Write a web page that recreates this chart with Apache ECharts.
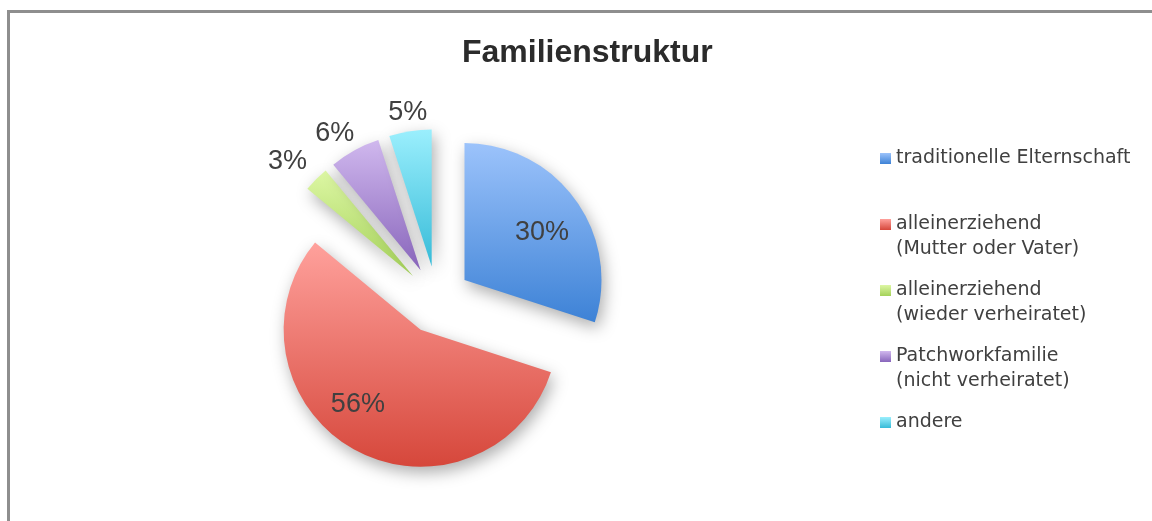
<!DOCTYPE html>
<html>
<head>
<meta charset="utf-8">
<title>Familienstruktur</title>
<script src="https://cdn.jsdelivr.net/npm/echarts@6/dist/echarts.min.js"></script>
<style>
  html, body { margin: 0; padding: 0; background: #fff; overflow: hidden; }
  #chart { position: absolute; left: 0; top: 0; width: 1152px; height: 521px; }
  #frame {
    position: absolute; left: 7px; top: 10px; width: 1200px; height: 600px;
    border-top: 3px solid #8e8e8e; border-left: 3px solid #8e8e8e;
    pointer-events: none;
  }
</style>
</head>
<body>
<div id="frame"></div>
<div id="chart"></div>
<script>
const categories = [
  'traditionelle Elternschaft',
  'alleinerziehend\n(Mutter oder Vater)',
  'alleinerziehend\n(wieder verheiratet)',
  'Patchworkfamilie\n(nicht verheiratet)',
  'andere'
]
const shares = [30, 56, 3, 6, 5]

// gradient fill, top -> bottom
const topColors = ['#9cc3fb', '#ffa19c', '#ddf7a4', '#d0b8ee', '#9beffd']
const bottomColors = ['#3d82d6', '#d6473b', '#a4d159', '#8865bb', '#36bbd8']

const center = [437, 300]
const radius = 137
const explode = 34
const textColor = '#404040'
// small nudges so the percentage labels sit where Excel put them
const labelNudge = [[-1, 10], [-16, -10], [-8, 3], [-6, 9], [2, 10]]

function gradient(i) {
  return new echarts.graphic.LinearGradient(0, 0, 0, 1, [
    { offset: 0, color: topColors[i] },
    { offset: 1, color: bottomColors[i] }
  ])
}

const chart = echarts.init(document.getElementById('chart'))

const slices = categories.map((name, i) => ({
  name,
  value: shares[i],
  selected: true,
  itemStyle: { color: gradient(i) }
}))

// transparent copies of the pie, only used to place the percentage labels
function labelSeries(r, showFn) {
  return {
    type: 'pie',
    center,
    radius: r,
    silent: true,
    selectedMode: 'multiple',
    selectedOffset: explode,
    itemStyle: { color: 'rgba(0,0,0,0)' },
    label: {
      position: 'inside',
      formatter: '{c}%',
      color: textColor,
      fontSize: 27,
      fontFamily: 'Liberation Sans'
    },
    labelLine: { show: false },
    labelLayout: (params) => ({
      dx: labelNudge[params.dataIndex][0],
      dy: labelNudge[params.dataIndex][1]
    }),
    emphasis: { disabled: true },
    data: categories.map((name, i) => ({
      name,
      value: shares[i],
      selected: true,
      label: { show: showFn(shares[i]) }
    }))
  }
}

chart.setOption({
  animation: false,
  title: {
    text: 'Familienstruktur',
    left: 462,
    top: 37,
    padding: 0,
    textStyle: {
      fontFamily: 'Liberation Sans',
      fontWeight: 'bold',
      fontSize: 32,
      color: '#2b2b2b'
    }
  },
  legend: {
    orient: 'vertical',
    left: 880,
    top: 121,
    padding: 0,
    itemWidth: 11,
    itemHeight: 11,
    itemGap: -9,
    icon: 'rect',
    data: categories,
    formatter: (name) => ' \n' + name + (name.includes('\n') ? '' : '\n '),
    textStyle: {
      fontFamily: 'DejaVu Sans',
      fontSize: 19,
      lineHeight: 25,
      color: textColor
    }
  },
  series: [
    {
      type: 'pie',
      center,
      radius,
      selectedMode: 'multiple',
      selectedOffset: explode,
      label: { show: false },
      labelLine: { show: false },
      emphasis: { disabled: true },
      itemStyle: {
        shadowBlur: 16,
        shadowColor: 'rgba(0,0,0,0.32)',
        shadowOffsetX: 3,
        shadowOffsetY: 6
      },
      data: slices
    },
    labelSeries([51, radius], (v) => v >= 10),
    labelSeries([150, 176], (v) => v < 10)
  ]
})
</script>
</body>
</html>
